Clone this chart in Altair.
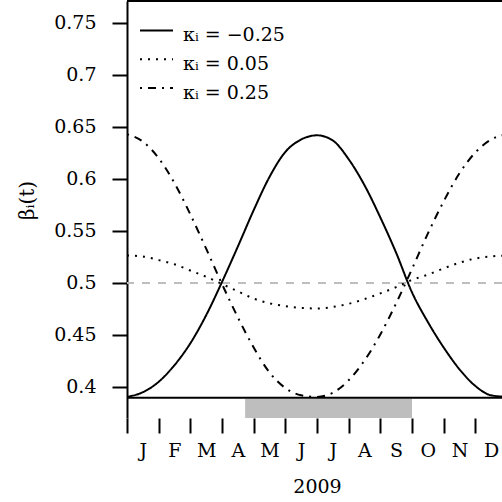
import altair as alt
import pandas as pd

# ---- data ----
MONTH_POS = [0.0, 0.5, 1.0, 1.5, 2.0, 2.5, 3.0, 3.5, 4.0, 4.5, 5.0, 5.5, 6.0,
             6.5, 7.0, 7.5, 8.0, 8.5, 9.0, 9.5, 10.0, 10.5, 11.0, 11.5, 12.0]
KAPPA_NEG025 = [0.3905, 0.395, 0.405, 0.421, 0.442, 0.469, 0.501, 0.535, 0.570,
                0.602, 0.626, 0.638, 0.642, 0.637, 0.619, 0.594, 0.563, 0.529,
                0.491, 0.4625, 0.438, 0.417, 0.401, 0.392, 0.3905]
KAPPA_005 = [0.5265, 0.5255, 0.522, 0.518, 0.512, 0.506, 0.499, 0.492, 0.485,
             0.4805, 0.4777, 0.476, 0.4755, 0.477, 0.480, 0.4845, 0.490, 0.496,
             0.503, 0.508, 0.514, 0.5195, 0.5235, 0.5255, 0.5265]
KAPPA_025 = [0.643, 0.636, 0.620, 0.596, 0.566, 0.533, 0.499, 0.467, 0.438,
             0.414, 0.399, 0.392, 0.3905, 0.3945, 0.4065, 0.4255, 0.4505, 0.4805,
             0.5135, 0.5475, 0.5785, 0.6055, 0.6255, 0.638, 0.643]
KAPPA_LABELS = ["κᵢ = −0.25", "κᵢ = 0.05", "κᵢ = 0.25"]
MONTH_LETTERS = ["J", "F", "M", "A", "M", "J", "J", "A", "S", "O", "N", "D"]
MONTH_STARTS = [0, 1, 2, 3, 4, 5, 6, 7, 8, 9, 10, 11]
Y_TICKS = [0.4, 0.45, 0.5, 0.55, 0.6, 0.65, 0.7, 0.75]
SEASON_START = [3.73]
SEASON_END = [9.0]
REF_LEVEL = [0.5]
YEAR_LABEL = "2009"
Y_TITLE = "βᵢ(t)"

# ---- layout / style ----
FONT = "DejaVu Serif"
W, H = 375, 417
DASHES = [[1, 0], [2, 6], [2, 6, 8, 6]]

x_scale = alt.Scale(domain=[0, 12 * 375 / 380], nice=False, zero=False)
y_scale = alt.Scale(domain=[0.37019, 0.77115], nice=False, zero=False)

letters = "".join(MONTH_LETTERS)
x_axis = alt.Axis(
    values=MONTH_STARTS, grid=False, domain=False,
    tickSize=15, tickWidth=2, tickColor="black",
    labelExpr=f"substring('{letters}', datum.value, datum.value + 1)",
    labelOffset=15.8, labelPadding=8, labelFont=FONT, labelFontSize=19,
    labelColor="black", labelOverlap=False, labelFlush=False, labelBound=False,
    title=YEAR_LABEL, titleFont=FONT, titleFontSize=19, titleFontWeight="normal",
    titleColor="black", titleX=190, titleY=74, titleAlign="center",
    titleBaseline="alphabetic",
)
y_axis = alt.Axis(
    values=Y_TICKS, format=".2~f", grid=False,
    domainWidth=2, domainColor="black",
    tickSize=15, tickWidth=2, tickColor="black",
    labelPadding=16, labelFont=FONT, labelFontSize=19, labelColor="black",
    title=Y_TITLE, titleFont=FONT, titleFontSize=20, titleFontWeight="normal",
    titleColor="black", titleX=-94, titleY=199, titleAngle=270,
    titleAlign="center", titleBaseline="alphabetic",
)

curves = pd.DataFrame({
    "m": MONTH_POS, "neg": KAPPA_NEG025, "dot": KAPPA_005, "dd": KAPPA_025,
})

one = pd.DataFrame({"a": [0]})

ref = alt.Chart(pd.DataFrame({"v": REF_LEVEL})).mark_rule(
    color="#bebebe", strokeWidth=2, strokeDash=[8, 8]
).encode(y=alt.Y("v:Q", scale=y_scale, axis=y_axis))

layers = [ref]
for col, dash in zip(["neg", "dot", "dd"], DASHES):
    layers.append(
        alt.Chart(curves).mark_line(
            color="black", strokeWidth=2, strokeDash=dash, clip=True,
            interpolate="monotone",
        ).encode(
            x=alt.X("m:Q", scale=x_scale, axis=x_axis),
            y=alt.Y(f"{col}:Q", scale=y_scale, axis=y_axis),
        )
    )

season = alt.Chart(pd.DataFrame({"s": SEASON_START, "e": SEASON_END})).mark_rect(
    color="#bebebe", clip=True
).encode(
    x=alt.X("s:Q", scale=x_scale, axis=x_axis), x2="e:Q",
    y=alt.value(397.7), y2=alt.value(417),
)
layers.append(season)

top_border = alt.Chart(one).mark_rule(color="black", strokeWidth=2).encode(
    x=alt.value(0), x2=alt.value(W), y=alt.value(0))
bottom_border = alt.Chart(one).mark_rule(color="black", strokeWidth=2).encode(
    x=alt.value(0), x2=alt.value(W), y=alt.value(396.7))
layers += [top_border, bottom_border]

for i, (lab, dash) in enumerate(zip(KAPPA_LABELS, DASHES)):
    ly = 29.5 + 28.8 * i
    layers.append(
        alt.Chart(one).mark_rule(color="black", strokeWidth=2, strokeDash=dash).encode(
            x=alt.value(13), x2=alt.value(46), y=alt.value(ly))
    )
    layers.append(
        alt.Chart(one).mark_text(
            align="left", baseline="alphabetic", font=FONT, fontSize=19, color="black"
        ).encode(x=alt.value(56), y=alt.value(ly + 10.8), text=alt.value(lab))
    )

chart = alt.layer(*layers).properties(
    width=W, height=H,
    autosize=alt.AutoSizeParams(type="none"),
    padding={"left": 127, "top": 1, "right": 0, "bottom": 84},
    background="white",
).configure_view(stroke=None)

chart.save("out.html", embed_options={"renderer": "svg", "actions": False})
